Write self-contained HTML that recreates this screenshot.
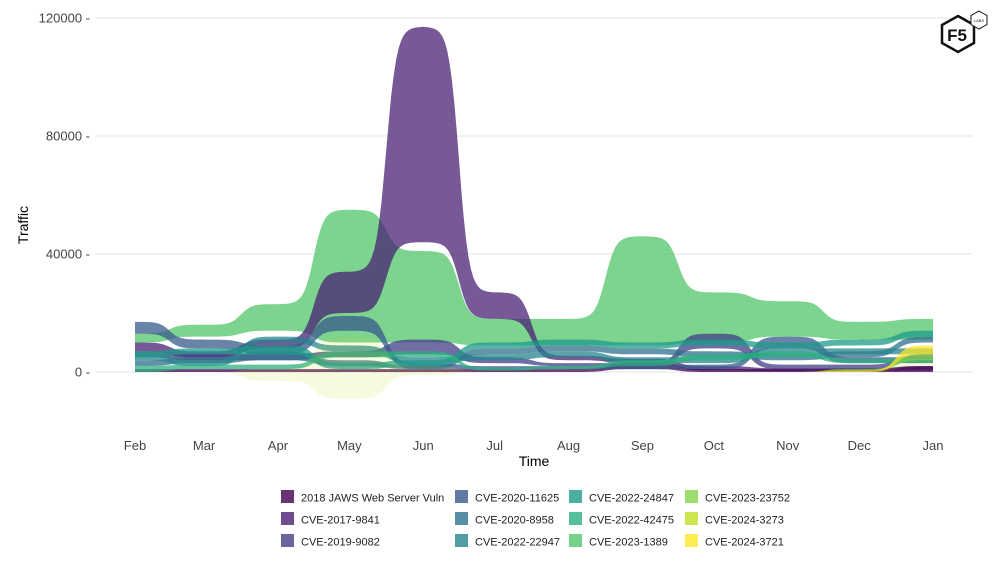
<!DOCTYPE html>
<html><head><meta charset="utf-8"><style>
body{margin:0;background:#fff;font-family:"Liberation Sans",sans-serif;}
svg{display:block}
</style></head><body>
<svg id="chart" width="1000" height="582" viewBox="0 0 1000 582">
<g id="grid"></g>
<g id="bands"></g>
<g id="yaxis"></g>
<g id="xaxis"></g>
<text x="28" y="225" transform="rotate(-90 28 225)" text-anchor="middle" font-size="14" fill="#000">Traffic</text>
<text x="534" y="466" text-anchor="middle" font-size="14" fill="#000">Time</text>
<g id="legend"></g>
<g>
<polygon points="958,16 974,25 974,43 958,52 942,43 942,25" fill="#fff" stroke="#111" stroke-width="2.5"/>
<text x="957" y="41" text-anchor="middle" font-size="17" font-weight="bold" fill="#111">F5</text>
<polygon points="979,11 987,15.5 987,24.5 979,29 971,24.5 971,15.5" fill="#fff" stroke="#111" stroke-width="1"/>
<text x="979" y="22" text-anchor="middle" font-size="4" fill="#111">LABS</text>
</g>
</svg>
<script>
const months=["Feb","Mar","Apr","May","Jun","Jul","Aug","Sep","Oct","Nov","Dec","Jan"];
const monthDays=[0,29,60,90,121,151,182,213,243,274,304,335];
const yTicks=[0,40000,80000,120000];
const seriesNames=["2018 JAWS Web Server Vuln","CVE-2017-9841","CVE-2019-9082","CVE-2020-11625","CVE-2020-8958","CVE-2022-22947","CVE-2022-24847","CVE-2022-42475","CVE-2023-1389","CVE-2023-23752","CVE-2024-3273","CVE-2024-3721"];
const seriesColors=["#440154","#482173","#433E85","#38598C","#2D708E","#25858E","#1E9B8A","#2BB07F","#51C56A","#85D54A","#C2DF23","#FDE725"];
// values in thousands: lower and upper edge of each ribbon per month
const lowJaws=[0,0,0,0,0,0,0,1,0,0,0,0];
const highJaws=[1,1,1,1,1,1,1,3,1,1,1,2];
const low9841=[7,5,8,20,44,18,4,3,0.5,0.3,0.3,0.5];
const high9841=[10,7,11,34,117,27,5.5,4.5,2,1.3,1.3,2];
const low9082=[5,4,4,5,6,3,2,2,8,1,1,4];
const high9082=[7,6,6,7,11,5,3,3,13,2.5,2.5,6];
const low11625=[13,8,6,14,1,1,1,1,1,8,3,3];
const high11625=[17,11,9,19,3,2,2,2,2.5,12,5,5];
const low8958=[2,3,4,2,1,6,7,6,5,4,5,10];
const high8958=[4,5,7,4,2,8,9,8,7,6,7,12];
const low22947=[4,2,10,7,3,4,5,3,3,6,6,6];
const high22947=[6,4,12,9,5,6,7,5,5,8,8,8];
const low24847=[5,6,6,1,2,8,9,8,9,8,9,12];
const high24847=[7,8,9,3,4,10,11,10,11,10,11,14];
const low42475=[0,1,1,5,5,0.5,1,2,4,5,3,3];
const high42475=[2,2.5,2.5,7,7,1.5,2,4,6,7,4.5,4.5];
const low1389=[10,12,14,10,10,9,9,9,10,12,11,11];
const high1389=[13,16,23,55,41,18,18,46,27,24,17,18];
const low23752=[0,0,0,0,0,0,0,0,0,0,0.5,4];
const high23752=[0,0,0,0,0,0,0,0,0,0,1,6];
const low3273=[0,0,-3,-9,-1,0,0,0,0,0,0,2];
const high3273=[0,0,1,12,2,0,0,0,0,0,0.5,4];
const low3721=[0,0,0,0,0,0,0,0,0,0,0,6];
const high3721=[0,0,0,0,0,0,0,0,0,0,0.5,9];
const lows=[lowJaws,low9841,low9082,low11625,low8958,low22947,low24847,low42475,low1389,low23752,low3273,low3721];
const highs=[highJaws,high9841,high9082,high11625,high8958,high22947,high24847,high42475,high1389,high23752,high3273,high3721];
const drawOrder=[8,1,0,2,3,4,5,6,7,9,10,11];

const NS="http://www.w3.org/2000/svg";
const x0=135,x1=933,y0=372,pxPerK=118/40;
const dayMax=monthDays[monthDays.length-1];
function xs(i){return x0+(x1-x0)*monthDays[i]/dayMax;}
function ys(k){return y0-k*pxPerK;}
function mk(tag,attrs,parent){const e=document.createElementNS(NS,tag);for(const k in attrs)e.setAttribute(k,attrs[k]);parent.appendChild(e);return e;}

const grid=document.getElementById("grid"),ya=document.getElementById("yaxis"),xa=document.getElementById("xaxis");
yTicks.forEach(v=>{
  const y=ys(v/1000);
  const l=mk("line",{x1:95,x2:973,y1:y,y2:y,stroke:"#e3e3e3","stroke-width":1},grid);
  
  
  const t=mk("text",{x:90,y:y+4.5,"text-anchor":"end","font-size":13,fill:"#444"},ya);
  t.textContent=v+" -";
  
  
});
months.forEach((m,i)=>{
  const t=mk("text",{x:xs(i),y:450,"text-anchor":"middle","font-size":13,fill:"#444"},xa);
  t.textContent=m;
  
  
});
const K=14,s0=1/(1+Math.exp(K*0.5)),s1=1/(1+Math.exp(-K*0.5));
function ease(t){return (1/(1+Math.exp(-K*(t-0.5)))-s0)/(s1-s0);}
function curve(arr){
  const pts=[];
  for(let i=0;i<arr.length-1;i++){
    for(let s=0;s<30;s++){const t=s/30,e=ease(t);
      pts.push([xs(i)+(xs(i+1)-xs(i))*t, ys(arr[i]+(arr[i+1]-arr[i])*e)]);}
  }
  pts.push([xs(arr.length-1),ys(arr[arr.length-1])]);
  return pts;
}
const bands=document.getElementById("bands");
drawOrder.forEach(si=>{
  const up=curve(highs[si]),lo=curve(lows[si]).reverse();
  const d="M"+up.concat(lo).map(p=>p[0].toFixed(1)+","+p[1].toFixed(1)).join("L")+"Z";
  const op=si===10?0.15:0.75;
  const p=mk("path",{d:d,fill:seriesColors[si],"fill-opacity":op},bands);
  
  
});
const leg=document.getElementById("legend");
const colX=[281,455,569,685],rowY=[497,519,541];
seriesNames.forEach((n,i)=>{
  const c=Math.floor(i/3),r=i%3;
  const g=mk("g",{},leg);
  
  
  mk("rect",{x:colX[c],y:rowY[r]-7,width:13,height:13,fill:seriesColors[i],"fill-opacity":0.8},g);
  const t=mk("text",{x:colX[c]+20,y:rowY[r]+4.5,"font-size":11,fill:"#222"},g);
  t.textContent=n;
});
</script>
</body></html>
